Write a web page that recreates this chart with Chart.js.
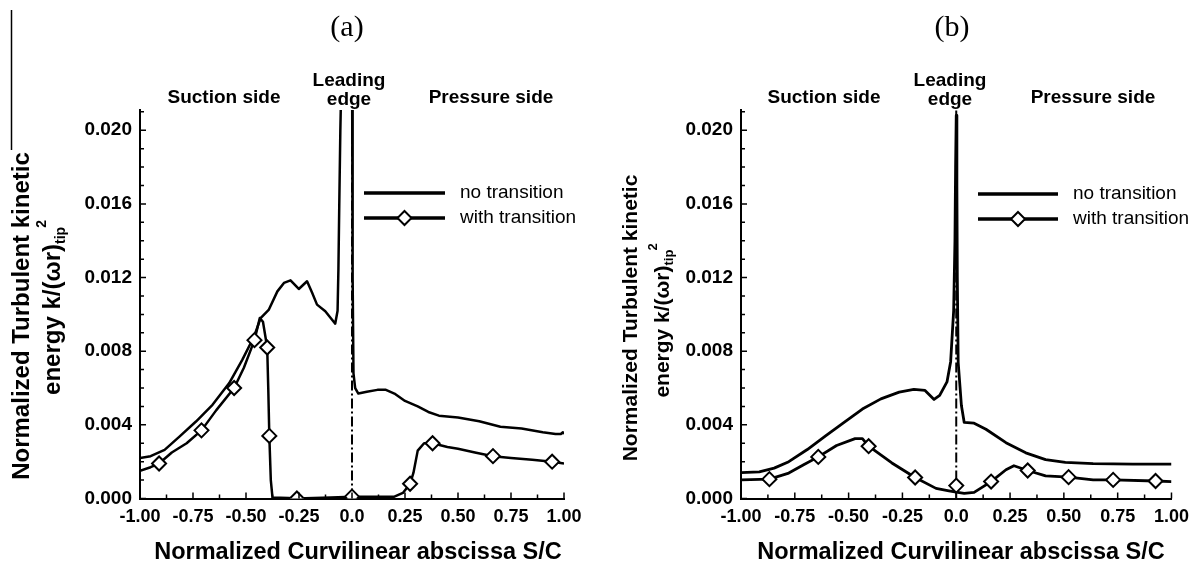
<!DOCTYPE html>
<html>
<head>
<meta charset="utf-8">
<script src="https://cdn.jsdelivr.net/npm/chart.js@4.4.1/dist/chart.umd.min.js"></script>
<style>
  html, body { margin: 0; padding: 0; background: #fff; }
  #wrapA { position: absolute; left: 0; top: 0; width: 598px; height: 564px; }
  #wrapB { position: absolute; left: 600px; top: 0; width: 597px; height: 564px; }
</style>
</head>
<body>
<div id="wrapA"><canvas id="chartA"></canvas></div>
<div id="wrapB"><canvas id="chartB"></canvas></div>
<script>
// tick labels
const xTickLabels = ['-1.00', '-0.75', '-0.50', '-0.25', '0.0', '0.25', '0.50', '0.75', '1.00'];
const yTickLabels = ['0.000', '0.004', '0.008', '0.012', '0.016', '0.020'];

// panel (a) - no transition
const aNoTransX = [-1.00, -0.95, -0.884, -0.814, -0.736, -0.658, -0.579, -0.517, -0.462, -0.431, -0.392, -0.352, -0.321, -0.290, -0.251, -0.212, -0.188, -0.165, -0.126, -0.094, -0.079, -0.068, -0.064, -0.060, -0.055, -0.048, -0.03, -0.01, 0.0, 0.003, 0.007, 0.015, 0.03, 0.07, 0.12, 0.16, 0.20, 0.25, 0.31, 0.36, 0.41, 0.50, 0.60, 0.70, 0.80, 0.90, 0.96, 0.985, 0.995, 1.0];
const aNoTransY = [0.0022, 0.0023, 0.00264, 0.00336, 0.00418, 0.00509, 0.00627, 0.00754, 0.0088, 0.0098, 0.01026, 0.01125, 0.01171, 0.01185, 0.01138, 0.0118, 0.01117, 0.01053, 0.01017, 0.00971, 0.0095, 0.0102, 0.0125, 0.0160, 0.0200, 0.0240, 0.0300, 0.0300, 0.0250, 0.0120, 0.0068, 0.0060, 0.0057, 0.0058, 0.0059, 0.0059, 0.0057, 0.0053, 0.0050, 0.0047, 0.0045, 0.0044, 0.0042, 0.0039, 0.0038, 0.0036, 0.0035, 0.0035, 0.0036, 0.0035];
// panel (a) - with transition
const aWithX = [-1.00, -0.95, -0.91, -0.85, -0.78, -0.71, -0.64, -0.556, -0.51, -0.46, -0.435, -0.42, -0.40, -0.395, -0.39, -0.383, -0.375, -0.30, -0.26, -0.10, 0.0, 0.10, 0.20, 0.24, 0.274, 0.29, 0.31, 0.34, 0.38, 0.45, 0.50, 0.58, 0.665, 0.75, 0.85, 0.944, 1.0];
const aWithY = [0.0015, 0.0017, 0.0019, 0.0025, 0.0030, 0.0037, 0.0048, 0.0060, 0.0071, 0.0086, 0.0098, 0.0096, 0.0082, 0.0060, 0.0034, 0.0010, 0.00005, 0.00003, 0.0, 0.00005, 0.0001, 0.0001, 0.0001, 0.0003, 0.0008, 0.0014, 0.0026, 0.0030, 0.0030, 0.0028, 0.0027, 0.0025, 0.0023, 0.0022, 0.0021, 0.0020, 0.0019];
const aMarkX = [-0.91, -0.71, -0.556, -0.46, -0.40, -0.39, -0.26, 0.0, 0.274, 0.38, 0.665, 0.944];
const aMarkY = [0.0019, 0.0037, 0.0060, 0.0086, 0.0082, 0.0034, 0.0, 0.0001, 0.0008, 0.0030, 0.0023, 0.0020];

// panel (b) - no transition
const bNoTransX = [-1.0, -0.915, -0.846, -0.778, -0.692, -0.607, -0.521, -0.436, -0.350, -0.265, -0.197, -0.145, -0.103, -0.077, -0.043, -0.026, -0.012, -0.006, -0.003, 0.0, 0.003, 0.005, 0.009, 0.024, 0.037, 0.083, 0.138, 0.231, 0.323, 0.415, 0.507, 0.636, 0.821, 1.0];
const bNoTransY = [0.0014, 0.00145, 0.00165, 0.0020, 0.00266, 0.0034, 0.00413, 0.00486, 0.00541, 0.00578, 0.00593, 0.00587, 0.00538, 0.0056, 0.00633, 0.00743, 0.0102, 0.0140, 0.0180, 0.0208, 0.0170, 0.0120, 0.0074, 0.00505, 0.00413, 0.00409, 0.00376, 0.00303, 0.00248, 0.00211, 0.00196, 0.00189, 0.00187, 0.00187];
// panel (b) - with transition
const bWithX = [-1.0, -0.868, -0.778, -0.709, -0.641, -0.556, -0.470, -0.436, -0.407, -0.299, -0.191, -0.094, -0.034, 0.0, 0.037, 0.083, 0.162, 0.231, 0.268, 0.332, 0.415, 0.522, 0.636, 0.729, 0.926, 1.0];
const bWithY = [0.00101, 0.00105, 0.00138, 0.00183, 0.00226, 0.00288, 0.00325, 0.00325, 0.00284, 0.00193, 0.00114, 0.00055, 0.00042, 0.00035, 0.00028, 0.00033, 0.00092, 0.00156, 0.00178, 0.00152, 0.00123, 0.00116, 0.00101, 0.00101, 0.00095, 0.00092];
const bMarkX = [-0.868, -0.641, -0.407, -0.191, 0.0, 0.162, 0.332, 0.522, 0.729, 0.926];
const bMarkY = [0.00105, 0.00226, 0.00284, 0.00114, 0.0007, 0.00092, 0.00152, 0.00116, 0.00101, 0.00095];

const FONT = '"Liberation Sans", Arial, Helvetica, sans-serif';
const SERIF = '"Liberation Serif", "DejaVu Serif", serif';
const xTitle = 'Normalized Curvilinear abscissa S/C';
const yTitleLine1 = 'Normalized Turbulent kinetic';
const yTitleMain = 'energy k/(\u03c9r)';
const yTitleSub = 'tip';
const yTitleSup = '2';

const toPts = (xs, ys) => xs.map((x, i) => ({ x: x, y: ys[i] }));

function drawYTitle(ctx, t) {
  ctx.save();
  ctx.translate(t.x1, t.y1);
  ctx.rotate(-Math.PI / 2);
  ctx.font = `bold ${t.size}px ${FONT}`;
  ctx.textAlign = 'center';
  ctx.textBaseline = 'middle';
  ctx.fillText(yTitleLine1, 0, 0);
  ctx.restore();

  ctx.save();
  ctx.translate(t.x2, t.y2);
  ctx.rotate(-Math.PI / 2);
  ctx.textAlign = 'left';
  ctx.textBaseline = 'middle';
  const big = `bold ${t.size}px ${FONT}`;
  const small = `bold ${Math.round(t.size * 0.6)}px ${FONT}`;
  ctx.font = big;
  const w1 = ctx.measureText(yTitleMain).width;
  ctx.font = small;
  const w2 = ctx.measureText(yTitleSub).width;
  const w3 = ctx.measureText(yTitleSup).width;
  let x = -(w1 + w2 + w3) / 2;
  ctx.font = big;
  ctx.fillText(yTitleMain, x, 0);
  x += w1;
  ctx.font = small;
  ctx.fillText(yTitleSub, x, t.size * 0.32);
  x += w2;
  ctx.fillText(yTitleSup, x - 1, -t.size * 0.45);
  ctx.restore();
}

function diamond(ctx, x, y, r) {
  ctx.beginPath();
  ctx.moveTo(x, y - r);
  ctx.lineTo(x + r, y);
  ctx.lineTo(x, y + r);
  ctx.lineTo(x - r, y);
  ctx.closePath();
  ctx.fillStyle = '#fff';
  ctx.fill();
  ctx.lineWidth = 2;
  ctx.stroke();
}

function decorPlugin(cfg) {
  return {
    id: 'decor',
    afterDraw(chart) {
      const ctx = chart.ctx;
      const xs = chart.scales.x, ys = chart.scales.y;
      const area = chart.chartArea;
      ctx.save();
      ctx.strokeStyle = '#000';
      ctx.fillStyle = '#000';

      // inward ticks, majors and minors
      ctx.lineWidth = 1.5;
      ctx.beginPath();
      for (let i = 0; i <= 21; i++) {
        const py = ys.getPixelForValue(i / 1000);
        ctx.moveTo(area.left, py);
        ctx.lineTo(area.left + (i % 4 === 0 ? 6 : 4), py);
      }
      for (let i = 0; i <= 16; i++) {
        const px = xs.getPixelForValue(-1 + i * 0.125);
        ctx.moveTo(px, area.bottom);
        ctx.lineTo(px, area.bottom - (i % 2 === 0 ? 6 : 4));
      }
      ctx.stroke();

      // stray border line at far left of panel (a)
      if (cfg.edgeLine) {
        ctx.lineWidth = 1.5;
        ctx.beginPath();
        ctx.moveTo(cfg.edgeLine[0], cfg.edgeLine[1]);
        ctx.lineTo(cfg.edgeLine[0], cfg.edgeLine[2]);
        ctx.stroke();
      }

      // panel letter
      ctx.font = `30px ${SERIF}`;
      ctx.textAlign = 'center';
      ctx.textBaseline = 'middle';
      ctx.fillText(cfg.letter, cfg.letterX, 28);

      // region labels
      ctx.font = `bold 19px ${FONT}`;
      ctx.fillText('Suction side', cfg.suctionX, 98);
      ctx.fillText('Leading', cfg.leadX, 81);
      ctx.fillText('edge', cfg.leadX, 100);
      ctx.fillText('Pressure side', cfg.pressureX, 98);

      // x axis title
      ctx.font = `bold 23.5px ${FONT}`;
      ctx.fillText(xTitle, cfg.xTitleX, 553);

      // legend
      const lg = cfg.legend;
      ctx.lineWidth = 3.5;
      ctx.beginPath();
      ctx.moveTo(lg.x0, lg.y1); ctx.lineTo(lg.x1, lg.y1);
      ctx.moveTo(lg.x0, lg.y2); ctx.lineTo(lg.x1, lg.y2);
      ctx.stroke();
      diamond(ctx, (lg.x0 + lg.x1) / 2, lg.y2, 7);
      ctx.fillStyle = '#000';
      ctx.font = `19px ${FONT}`;
      ctx.textAlign = 'left';
      ctx.fillText('no transition', lg.tx, lg.y1);
      ctx.fillText('with transition', lg.tx, lg.y2);

      drawYTitle(ctx, cfg.yTitle);
      ctx.restore();
    }
  };
}

function makeChart(id, d, cfg) {
  new Chart(document.getElementById(id), {
    type: 'line',
    data: {
      datasets: [
        {
          data: toPts(d.markX, d.markY),
          showLine: false,
          pointStyle: 'rectRot',
          pointRadius: 7,
          pointBackgroundColor: '#fff',
          pointBorderColor: '#000',
          pointBorderWidth: 2
        },
        {
          data: toPts(d.withX, d.withY),
          borderColor: '#000', borderWidth: cfg.lineWidth, pointRadius: 0, tension: 0,
          borderJoinStyle: 'round'
        },
        {
          data: toPts(d.noX, d.noY),
          borderColor: '#000', borderWidth: cfg.lineWidth, pointRadius: 0, tension: 0,
          borderJoinStyle: 'round'
        },
        {
          data: [{ x: 0, y: 0 }, { x: 0, y: 0.0211 }],
          borderColor: '#000', borderWidth: 2, pointRadius: 0,
          borderDash: [10, 3, 2, 3]
        }
      ]
    },
    options: {
      responsive: true,
      maintainAspectRatio: false,
      animation: false,
      events: [],
      layout: { padding: { left: 0, top: 110, right: cfg.padRight, bottom: 0 } },
      plugins: { legend: { display: false }, tooltip: { enabled: false } },
      scales: {
        x: {
          type: 'linear', min: -1, max: 1,
          afterFit: (s) => { s.height = 65.5; },
          grid: { display: false, drawTicks: false },
          border: { display: true, color: '#000', width: 2 },
          ticks: {
            stepSize: 0.25, autoSkip: false, maxRotation: 0, padding: 8, color: '#000',
            font: { family: FONT, size: 18, weight: 'bold' },
            callback: (v) => xTickLabels[Math.round((v + 1) / 0.25)]
          }
        },
        y: {
          min: 0, max: 0.0211,
          afterFit: (s) => { s.width = cfg.yWidth; },
          grid: { display: false, drawTicks: false },
          border: { display: true, color: '#000', width: 2 },
          ticks: {
            stepSize: 0.004, includeBounds: false, padding: 8, color: '#000',
            font: { family: FONT, size: 19, weight: 'bold' },
            callback: (v) => yTickLabels[Math.round(v / 0.004)]
          }
        }
      }
    },
    plugins: [decorPlugin(cfg)]
  });
}

makeChart('chartA',
  { noX: aNoTransX, noY: aNoTransY, withX: aWithX, withY: aWithY, markX: aMarkX, markY: aMarkY },
  {
    yWidth: 140, padRight: 34, lineWidth: 2.5,
    letter: '(a)', letterX: 347,
    suctionX: 224, leadX: 349, pressureX: 491, xTitleX: 358,
    legend: { x0: 364, x1: 445, y1: 193, y2: 218, tx: 460 },
    yTitle: { size: 24, x1: 22, y1: 316, x2: 53, y2: 307 },
    edgeLine: [11.5, 10, 150]
  });

makeChart('chartB',
  { noX: bNoTransX, noY: bNoTransY, withX: bWithX, withY: bWithY, markX: bMarkX, markY: bMarkY },
  {
    yWidth: 141, padRight: 23, lineWidth: 2.8,
    letter: '(b)', letterX: 352,
    suctionX: 224, leadX: 350, pressureX: 493, xTitleX: 361,
    legend: { x0: 378, x1: 458, y1: 194, y2: 219, tx: 473 },
    yTitle: { size: 21, x1: 31, y1: 318, x2: 63, y2: 320 },
    edgeLine: null
  });
</script>
</body>
</html>
